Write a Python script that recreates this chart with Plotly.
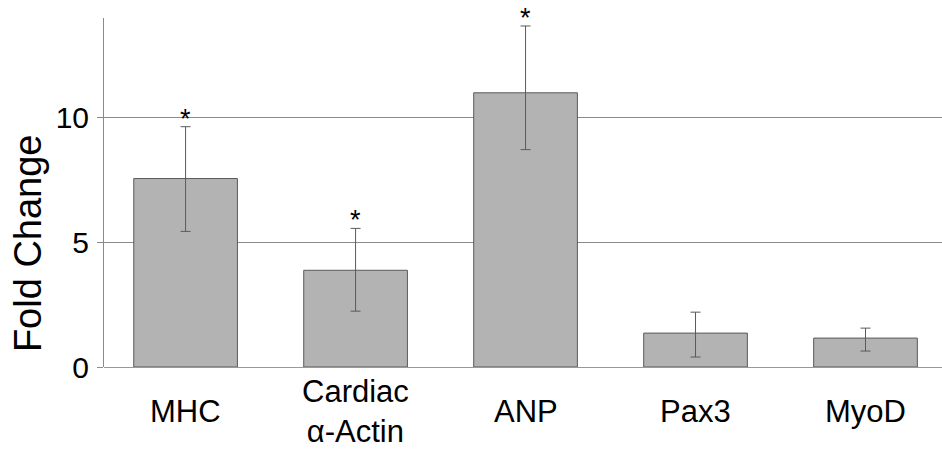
import plotly.graph_objects as go

categories = ["MHC", "Cardiac<br>α-Actin", "ANP", "Pax3", "MyoD"]
fold_change = [7.56, 3.88, 11.0, 1.36, 1.16]
error_plus = [2.08, 1.68, 2.68, 0.84, 0.40]
error_minus = [2.12, 1.64, 2.28, 0.96, 0.52]
significant = [True, True, True, False, False]
y_ticks = [0, 5, 10]

FONT = "Liberation Sans, Arial, Helvetica"

fig = go.Figure()
fig.add_trace(go.Bar(
    x=categories, y=fold_change,
    marker=dict(color="#b3b3b3", line=dict(color="#5a5a5a", width=1)),
    error_y=dict(type="data", array=error_plus, arrayminus=error_minus, symmetric=False,
                 visible=True, color="#5a5a5a", thickness=1, width=5),
    showlegend=False,
))
for c, v, e, s in zip(categories, fold_change, error_plus, significant):
    if s:
        fig.add_annotation(x=c, y=v + e, xref="x", yref="y", text="*", showarrow=False,
                           yanchor="middle", xanchor="center", yshift=8,
                           font=dict(size=27, color="black", family=FONT))
for c in categories:
    fig.add_annotation(x=c, y=0, xref="x", yref="y", text=c, showarrow=False,
                       yanchor="middle", xanchor="center", yshift=-44,
                       font=dict(size=31, color="black", family=FONT))
fig.add_annotation(x=-0.0907, y=0.355, xref="paper", yref="paper", text="Fold Change",
                   textangle=-90, showarrow=False, xanchor="center", yanchor="middle",
                   font=dict(size=38, color="black", family=FONT))
fig.update_layout(
    width=942, height=459,
    margin=dict(l=104, r=0, t=18, b=92),
    plot_bgcolor="white", paper_bgcolor="white",
    bargap=0.39,
    font=dict(family=FONT, color="black"),
    xaxis=dict(range=[-0.48, 4.45], showline=False, showgrid=False, ticks="",
               showticklabels=False),
    yaxis=dict(range=[0, 14], tickvals=y_ticks, showgrid=True, gridcolor="#8a8a8a", gridwidth=1,
               zeroline=True, zerolinecolor="#999999", zerolinewidth=1,
               showline=True, linecolor="#8a8a8a", linewidth=1,
               ticks="outside", ticklen=6, tickcolor="#8a8a8a",
               tickfont=dict(size=30), ticklabelstandoff=2),
)
fig.write_html("out.html")
